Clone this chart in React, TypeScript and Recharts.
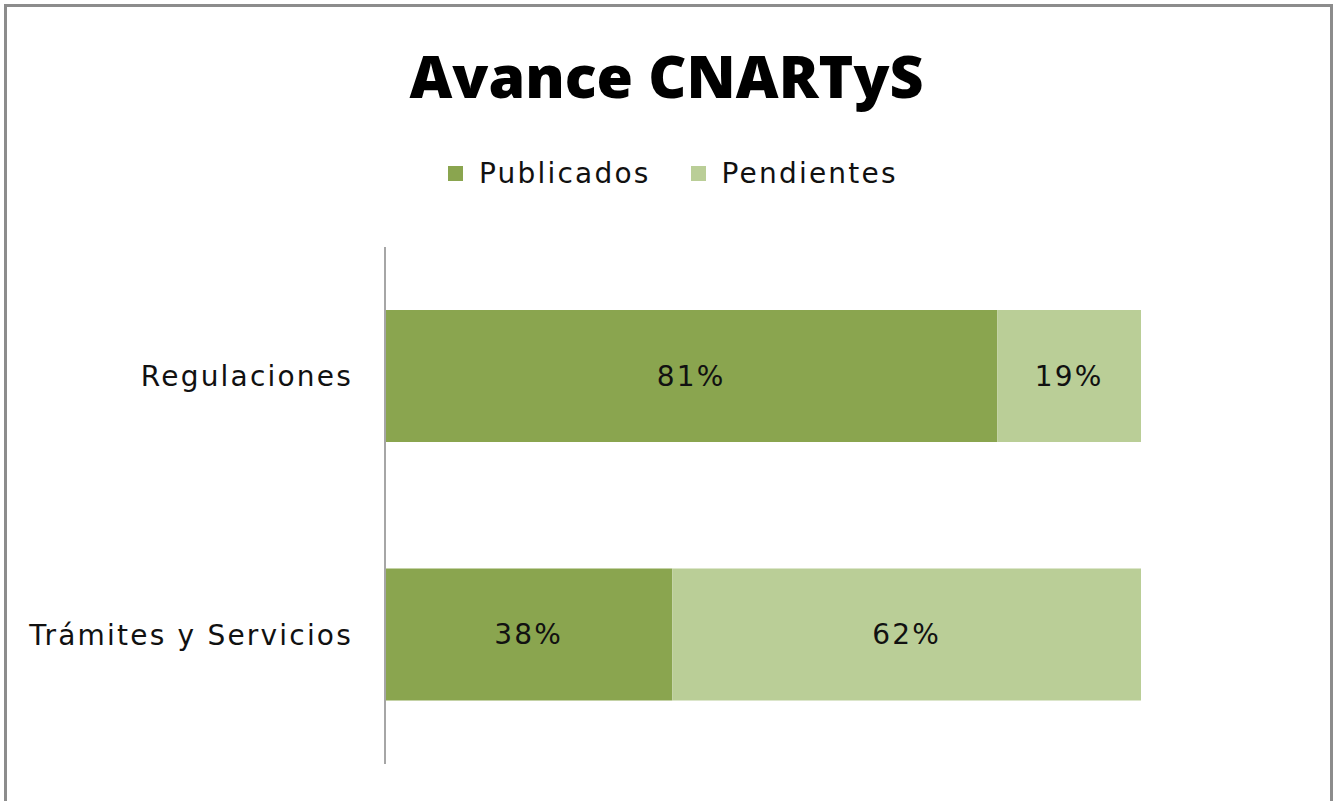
import { Bar, BarChart, LabelList, XAxis, YAxis } from "recharts";

const categories = ["Regulaciones", "Trámites y Servicios"];
const publicados = [81, 38];
const pendientes = [19, 62];
const seriesNames = ["Publicados", "Pendientes"];

const data = categories.map((name, i) => ({
  name,
  publicados: publicados[i],
  pendientes: pendientes[i],
}));

const DARK = "#8aa54f";
const LIGHT = "#bace97";
const FONT = "'DejaVu Sans', sans-serif";
const SPACING = 2.2;
const colors = [DARK, LIGHT];

const labelStyle = { fill: "#111", fontSize: 28, fontFamily: FONT, letterSpacing: SPACING };

export default function App() {
  return (
    <div style={{ position: "absolute", left: 0, top: 0, width: 1333, height: 801, overflow: "hidden", background: "#fff" }}>
      <div
        style={{
          position: "absolute",
          left: 4,
          top: 4,
          width: 1323,
          height: 800,
          border: "3px solid #8c8c8c",
        }}
      />
      <div
        style={{
          position: "absolute",
          top: 35,
          left: 0,
          width: 1333,
          textAlign: "center",
          fontFamily: "'Open Sans', sans-serif",
          fontWeight: 800,
          fontSize: 59,
          color: "#000",
        }}
      >
        Avance CNARTyS
      </div>
      {/* legend */}
      <div
        style={{
          position: "absolute",
          left: 448,
          top: 157,
          display: "flex",
          fontFamily: FONT,
          fontSize: 28,
          letterSpacing: SPACING,
          color: "#111",
        }}
      >
        {seriesNames.map((s, i) => (
          <div key={s} style={{ display: "flex", alignItems: "center", marginRight: i === 0 ? 40 : 0 }}>
            <span style={{ width: 15, height: 15, background: colors[i], display: "inline-block", marginRight: 16 }} />
            <span>{s}</span>
          </div>
        ))}
      </div>
      <div style={{ position: "absolute", left: 0, top: 0 }}>
        <BarChart
          width={1333}
          height={801}
          data={data}
          layout="vertical"
          margin={{ top: 247, right: 192, bottom: 37, left: 0 }}
          barSize={132}
        >
          <XAxis type="number" domain={[0, 100]} hide />
          <YAxis
            type="category"
            dataKey="name"
            width={385}
            axisLine={{ stroke: "#a6a6a6", strokeWidth: 2 }}
            tickLine={false}
            tickSize={0}
            tickMargin={32}
            tick={labelStyle}
          />
          <Bar dataKey="publicados" name={seriesNames[0]} stackId="a" fill={DARK} isAnimationActive={false}>
            <LabelList dataKey="publicados" position="center" formatter={(v: any) => `${v}%`} style={labelStyle} />
          </Bar>
          <Bar dataKey="pendientes" name={seriesNames[1]} stackId="a" fill={LIGHT} isAnimationActive={false}>
            <LabelList dataKey="pendientes" position="center" formatter={(v: any) => `${v}%`} style={labelStyle} />
          </Bar>
        </BarChart>
      </div>
    </div>
  );
}
